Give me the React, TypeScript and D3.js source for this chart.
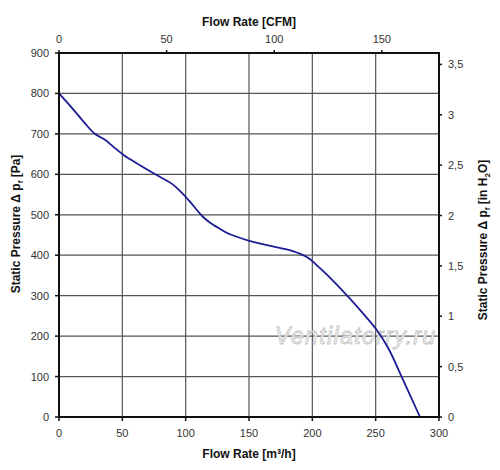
import React from "react";
import * as d3 from "d3";

const flowM3h = [0, 10, 20, 28, 36, 43, 51, 60, 76, 89, 96, 103, 113, 119, 125, 134, 151, 167, 184, 196, 206, 217, 229, 240, 250, 260, 271, 285];
const pressurePa = [800, 765, 728, 701, 686, 668, 648, 630, 600, 577, 557, 534, 497, 481, 469, 453, 435, 423, 411, 395, 368, 335, 295, 256, 219, 170, 96, 0];
const bottomTicks = [0, 50, 100, 150, 200, 250, 300];
const leftTicks = [0, 100, 200, 300, 400, 500, 600, 700, 800, 900];
const topTicks = [0, 50, 100, 150];
const rightTicks = [0, 0.5, 1, 1.5, 2, 2.5, 3, 3.5];

const M3H_PER_CFM = 1.699;
const PA_PER_INH2O = 249.09;

const W = 500;
const H = 470;
const L = 59, R = 439, T = 53, B = 417;

export default function App() {
  const x = d3.scaleLinear().domain([0, 300]).range([L, R]);
  const y = d3.scaleLinear().domain([0, 900]).range([B, T]);
  const xCfm = d3.scaleLinear().domain([0, 300 / M3H_PER_CFM]).range([L, R]);
  const yIn = d3.scaleLinear().domain([0, 900 / PA_PER_INH2O]).range([B, T]);

  const pts: [number, number][] = flowM3h.map((q, i) => [q, pressurePa[i]]);
  const line = d3
    .line<[number, number]>()
    .x((d) => x(d[0]))
    .y((d) => y(d[1]))
    .curve(d3.curveCatmullRom.alpha(0.5));

  const font = "'Liberation Sans', Arial, sans-serif";
  const tickColor = "#333";
  const fmtComma = (v: number) => String(v).replace(".", ",");

  return (
    <svg
      width={W}
      height={H}
      style={{ position: "absolute", left: 0, top: 0, background: "#fff" }}
      fontFamily={font}
    >
      <rect x={0} y={0} width={W} height={H} fill="#fff" />
      {/* grid */}
      {bottomTicks.slice(1, -1).map((t) => (
        <line key={"gx" + t} x1={x(t)} x2={x(t)} y1={T} y2={B} stroke="#555" strokeWidth={1.2} />
      ))}
      {leftTicks.slice(1, -1).map((t) => (
        <line key={"gy" + t} x1={L} x2={R} y1={y(t)} y2={y(t)} stroke="#555" strokeWidth={1.2} />
      ))}

      {/* watermark */}
      <text
        x={355}
        y={344}
        textAnchor="middle"
        fontSize={23}
        fontStyle="italic"
        fill="#f4f4f4"
        stroke="#c4c4c4"
        strokeWidth={0.8}
        textLength={160}
      >
        Ventilatorry.ru
      </text>

      {/* curve */}
      <path d={line(pts) || ""} fill="none" stroke="#1c1c96" strokeWidth={1.8} />

      {/* frame */}
      <rect x={L} y={T} width={R - L} height={B - T} fill="none" stroke="#111" strokeWidth={2} />

      {/* bottom axis */}
      {bottomTicks.map((t) => (
        <g key={"b" + t}>
          <line x1={x(t)} x2={x(t)} y1={B} y2={B + 4} stroke="#111" strokeWidth={1.5} />
          <text x={x(t)} y={437} textAnchor="middle" fontSize={11} fill={tickColor}>
            {t}
          </text>
        </g>
      ))}
      {/* left axis */}
      {leftTicks.map((t) => (
        <g key={"l" + t}>
          <line x1={L - 4} x2={L} y1={y(t)} y2={y(t)} stroke="#111" strokeWidth={1.5} />
          <text x={49} y={y(t) + 4} textAnchor="end" fontSize={11} fill={tickColor}>
            {t}
          </text>
        </g>
      ))}
      {/* top axis */}
      {topTicks.map((t) => (
        <g key={"t" + t}>
          <line x1={xCfm(t)} x2={xCfm(t)} y1={T - 3} y2={T} stroke="#111" strokeWidth={1.5} />
          <text x={xCfm(t)} y={43} textAnchor="middle" fontSize={11} fill={tickColor}>
            {t}
          </text>
        </g>
      ))}
      {/* right axis */}
      {rightTicks.map((t) => (
        <g key={"r" + t}>
          <line x1={R} x2={R + 3} y1={yIn(t)} y2={yIn(t)} stroke="#111" strokeWidth={1.5} />
          <text x={448} y={yIn(t) + 4} textAnchor="start" fontSize={11} fill={tickColor}>
            {fmtComma(t)}
          </text>
        </g>
      ))}

      {/* titles */}
      <text x={249} y={26} textAnchor="middle" fontSize={12} fontWeight="bold" fill="#111">
        Flow Rate [CFM]
      </text>
      <text x={249} y={458} textAnchor="middle" fontSize={12} fontWeight="bold" fill="#111">
        Flow Rate [m³/h]
      </text>
      <text
        transform="translate(20,224) rotate(-90)"
        textAnchor="middle"
        fontSize={12}
        fontWeight="bold"
        fill="#111"
      >
        Static Pressure Δ p<tspan fontSize={8} dy={3}>f</tspan>
        <tspan dy={-3}> [Pa]</tspan>
      </text>
      <text
        transform="translate(487,240) rotate(-90)"
        textAnchor="middle"
        fontSize={12}
        fontWeight="bold"
        fill="#111"
      >
        Static Pressure Δ p<tspan fontSize={8} dy={3}>f</tspan>
        <tspan dy={-3}> [in H</tspan>
        <tspan fontSize={8} dy={3}>2</tspan>
        <tspan dy={-3}>O]</tspan>
      </text>
    </svg>
  );
}
